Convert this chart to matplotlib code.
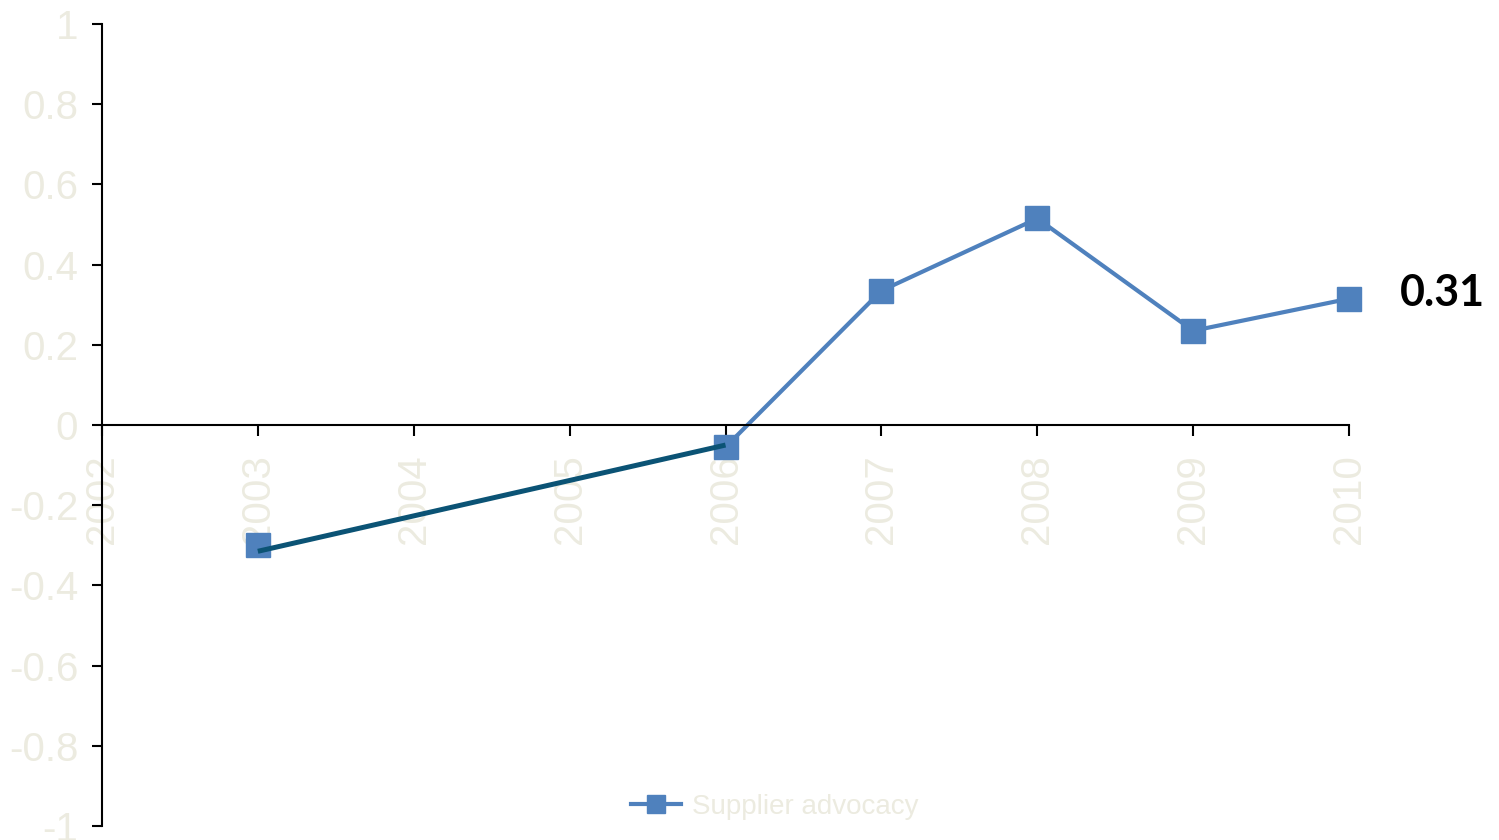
import numpy as np
import matplotlib.pyplot as plt

plt.rcParams['font.family'] = ['Liberation Sans', 'DejaVu Sans']

years = [2003, 2004, 2005, 2006, 2007, 2008, 2009, 2010]
advocacy = [-0.30, np.nan, np.nan, -0.055, 0.335, 0.515, 0.235, 0.315]
early_years = [2003, 2006]
early_vals = [-0.315, -0.05]
last_label = '0.31'

light = '#ecebe0'
blue = '#4f81bd'
dark = '#0b5375'

fig = plt.figure(figsize=(14.99, 8.4), dpi=100)
ax = fig.add_axes([0.068, 0.0167, 0.832, 0.9547])

ax.spines['top'].set_visible(False)
ax.spines['right'].set_visible(False)
ax.spines['bottom'].set_position(('data', 0))
ax.spines['bottom'].set_linewidth(1.5)
ax.spines['left'].set_linewidth(1.5)

ax.plot(years, advocacy, color=blue, lw=3.0, marker='s', ms=17,
        label='Supplier advocacy', zorder=2, clip_on=False)
ax.plot(early_years, early_vals, color=dark, lw=3.6, zorder=3,
        solid_capstyle='butt', clip_on=False)

ax.set_xlim(2002, 2010)
ax.set_ylim(-1, 1)
ax.set_xticks(range(2002, 2011))
ax.set_yticks(np.arange(-1, 1.01, 0.2))
ax.set_yticklabels(['-1', '-0.8', '-0.6', '-0.4', '-0.2', '0', '0.2', '0.4', '0.6', '0.8', '1'])
ax.set_xticklabels([str(y) for y in range(2002, 2011)])

ax.tick_params(axis='y', direction='out', length=7, width=1.5, pad=10,
               labelsize=29, labelcolor=light)
ax.tick_params(axis='x', direction='out', length=8, width=1.5, pad=13,
               labelsize=29, labelcolor=light, labelrotation=90)

ax.text(1.075, 0.33, last_label, transform=ax.get_yaxis_transform(),
        fontsize=31, fontweight='bold', family=['Lato', 'DejaVu Sans'],
        color='black', ha='center', va='center')

leg = fig.legend(loc='center', bbox_to_anchor=(775 / 1499, 1 - 807 / 840),
                 frameon=False, fontsize=20, handlelength=1.8, handletextpad=0.4,
                 markerscale=0.75)
for t in leg.get_texts():
    t.set_color(light)

fig.savefig('out.png', dpi=100)
